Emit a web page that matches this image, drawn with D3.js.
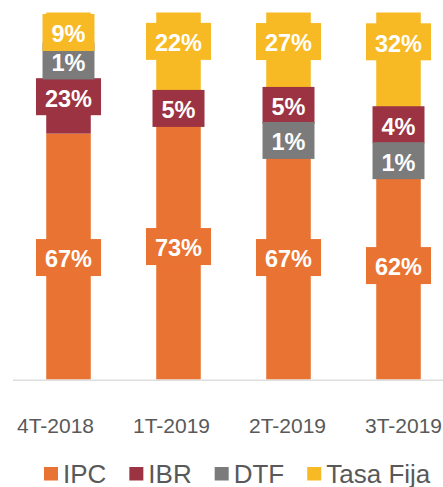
<!DOCTYPE html>
<html>
<head>
<meta charset="utf-8">
<script src="https://cdn.jsdelivr.net/npm/d3@7"></script>
<style>
  html, body { margin: 0; padding: 0; background: #fff; }
  svg { display: block; font-family: "Liberation Sans", Arial, sans-serif; }
</style>
</head>
<body>
<svg id="chart" width="443" height="487"></svg>
<script>
// Quarter categories
const categories = ["4T-2018", "1T-2019", "2T-2019", "3T-2019"];

// Share of each rate type (%)
const ipc      = [67, 73, 67, 62];
const ibr      = [23, 5, 5, 4];
const dtf      = [1, 0, 1, 1];
const tasaFija = [9, 22, 27, 32];

// Series order: legend and stacking (bottom to top)
const seriesNames = ["IPC", "IBR", "DTF", "Tasa Fija"];

const colors = {
  "IPC": "#E97332",
  "IBR": "#9B3342",
  "DTF": "#7B7B7B",
  "Tasa Fija": "#F7BA25"
};

// Hand-placed label offsets (px) so the small segments' labels don't collide
const labelNudge = {
  "4T-2018": { "IBR": 4.3, "DTF": 12.6, "Tasa Fija": 2.5 },
  "1T-2019": { "IBR": 5, "Tasa Fija": -12.5 },
  "2T-2019": { "IBR": -20, "DTF": 26, "Tasa Fija": -21.5 },
  "3T-2019": { "IBR": -18.5, "DTF": 26.7, "Tasa Fija": -31 }
};

const rows = categories.map((c, i) => ({
  cat: c, "IPC": ipc[i], "IBR": ibr[i], "DTF": dtf[i], "Tasa Fija": tasaFija[i]
}));

const svg = d3.select("#chart");

const x = d3.scaleBand()
  .domain(categories)
  .range([13.5, 453.5])
  .paddingInner(0.595)
  .paddingOuter(0.2975);

const xLabel = d3.scaleBand()
  .domain(categories)
  .range([-2.5, 461.5]);

const y = d3.scaleLinear().domain([0, 1]).range([379.5, 12.5]);

const stacked = d3.stack()
  .keys(seriesNames)
  .offset(d3.stackOffsetExpand)(rows);

// Bars
const layers = svg.append("g").selectAll("g")
  .data(stacked).join("g")
  .attr("fill", d => colors[d.key]);

layers.selectAll("rect")
  .data(d => d)
  .join("rect")
  .attr("x", d => x(d.data.cat))
  .attr("width", x.bandwidth())
  .attr("y", d => y(d[1]))
  .attr("height", d => Math.max(0, y(d[0]) - y(d[1])));

// Baseline axis
svg.append("line")
  .attr("x1", 13).attr("x2", 443)
  .attr("y1", 380.2).attr("y2", 380.2)
  .attr("stroke", "#dedede")
  .attr("stroke-width", 1.6);

// Value labels with coloured boxes
const labelG = svg.append("g");
stacked.forEach(layer => {
  layer.forEach(seg => {
    const cat = seg.data.cat;
    const v = seg.data[layer.key];
    if (!v) return;
    const nudge = (labelNudge[cat] && labelNudge[cat][layer.key]) || 0;
    const cy = (y(seg[0]) + y(seg[1])) / 2 + 1 + nudge;
    const cx = x(cat) + x.bandwidth() / 2;
    const g = labelG.append("g");
    const rect = g.append("rect").attr("fill", colors[layer.key]);
    const t = g.append("text")
      .attr("x", cx)
      .attr("y", cy)
      .attr("dy", "0.42em")
      .attr("text-anchor", "middle")
      .attr("fill", "#fff")
      .attr("font-weight", "bold")
      .attr("font-size", 23.5)
      .text(v + "%");
    const w = t.node().getComputedTextLength() + 18;
    rect.attr("x", cx - w / 2).attr("width", w)
      .attr("y", cy - 18.5).attr("height", 37);
  });
});

// Category labels
svg.append("g").selectAll("text")
  .data(categories).join("text")
  .attr("x", d => xLabel(d) + xLabel.bandwidth() / 2)
  .attr("y", 432.7)
  .attr("text-anchor", "middle")
  .attr("fill", "#595959")
  .attr("font-size", 21)
  .text(d => d);

// Legend
const legend = svg.append("g");
let lx = 44;
seriesNames.forEach(name => {
  legend.append("rect")
    .attr("x", lx).attr("y", 467)
    .attr("width", 14).attr("height", 13.5)
    .attr("fill", colors[name]);
  const t = legend.append("text")
    .attr("x", lx + 19)
    .attr("y", 483.3)
    .attr("fill", "#595959")
    .attr("font-size", 26)
    .text(name);
  lx += 19 + t.node().getComputedTextLength() + 23;
});
</script>
</body>
</html>
